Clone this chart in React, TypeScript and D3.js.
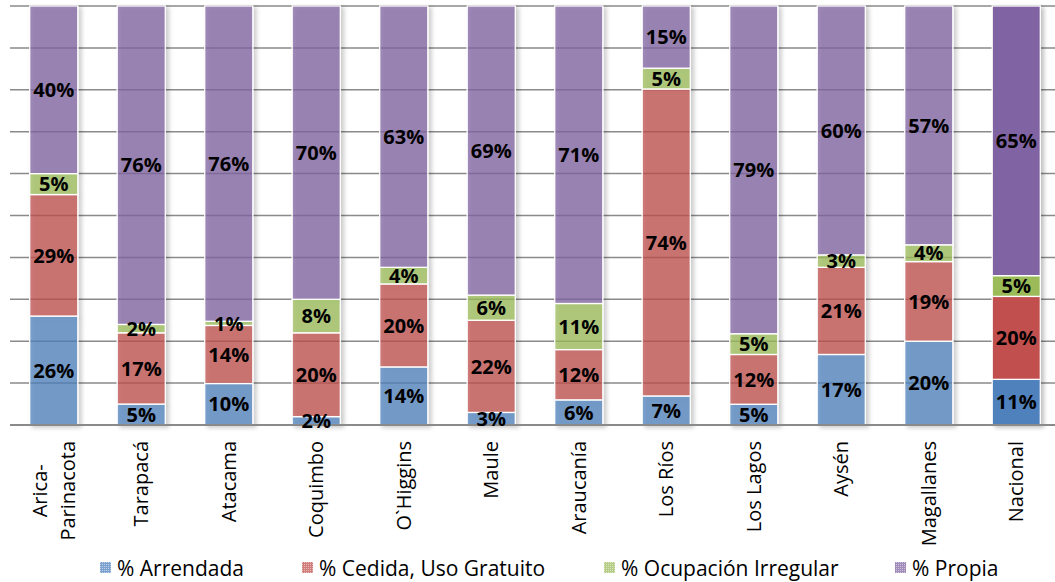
import React, { useEffect, useRef } from 'react';
import * as d3 from 'd3';

const categories = [
  'Arica-Parinacota', 'Tarapacá', 'Atacama', 'Coquimbo', 'O`Higgins', 'Maule',
  'Araucanía', 'Los Ríos', 'Los Lagos', 'Aysén', 'Magallanes', 'Nacional',
];

const seriesNames = ['% Arrendada', '% Cedida, Uso Gratuito', '% Ocupación Irregular', '% Propia'];

const arrendada = [26, 5, 10, 2, 14, 3, 6, 7, 5, 17, 20, 11];
const cedida = [29, 17, 14, 20, 20, 22, 12, 74, 12, 21, 19, 20];
const ocupacion = [5, 2, 1, 8, 4, 6, 11, 5, 5, 3, 4, 5];
const propia = [40, 76, 76, 70, 63, 69, 71, 15, 79, 60, 57, 65];

const colors = ['#4f81bd', '#c0504d', '#9bbb59', '#8064a2'];

const gridTicks = [0, 0.1, 0.2, 0.3, 0.4, 0.5, 0.6, 0.7, 0.8, 0.9, 1];

const legendX = [100, 302, 604, 895];

const WIDTH = 1055;
const HEIGHT = 582;

const App: React.FC = () => {
  const svgRef = useRef<SVGSVGElement>(null);

  useEffect(() => {
    document.body.style.margin = '0';
    if (!svgRef.current) return;
    const svg = d3.select(svgRef.current);
    svg.selectAll('*').remove();

    const font = '"Open Sans", sans-serif';
    const keys = ['a', 'c', 'o', 'p'];
    const rows = categories.map((name, i) => ({
      name,
      a: arrendada[i],
      c: cedida[i],
      o: ocupacion[i],
      p: propia[i],
    }));

    // 100% stacked, like the spreadsheet does
    const stack = d3.stack<any>().keys(keys).offset(d3.stackOffsetExpand);
    const stacked = stack(rows);

    const x = d3
      .scaleBand()
      .domain(categories)
      .range([10, 1060])
      .paddingInner(0.45)
      .paddingOuter(0.225);

    const y = d3.scaleLinear().domain([0, 1]).range([425, 6]);

    const defs = svg.append('defs');
    const filter = defs.append('filter').attr('id', 'shadow').attr('x', '-20%').attr('y', '-5%').attr('width', '150%').attr('height', '115%');
    filter
      .append('feDropShadow')
      .attr('dx', 3)
      .attr('dy', 2)
      .attr('stdDeviation', 2)
      .attr('flood-color', '#000')
      .attr('flood-opacity', 0.25);

    // legend marker patterns
    colors.forEach((c, k) => {
      const p = defs
        .append('pattern')
        .attr('id', `pat${k}`)
        .attr('width', 2)
        .attr('height', 2)
        .attr('patternUnits', 'userSpaceOnUse');
      p.append('rect').attr('width', 2).attr('height', 2).attr('fill', c).attr('fill-opacity', 0.75);
      p.append('rect').attr('width', 1).attr('height', 1).attr('fill', '#fff').attr('fill-opacity', 0.5);
    });

    // grid lines
    svg
      .append('g')
      .selectAll('line')
      .data(gridTicks.slice(1))
      .enter()
      .append('line')
      .attr('x1', 10)
      .attr('x2', WIDTH)
      .attr('y1', (d) => y(d))
      .attr('y2', (d) => y(d))
      .attr('stroke', '#8a8a8a')
      .attr('stroke-width', 1.5);

    // bars
    const barG = svg.append('g');
    categories.forEach((name, i) => {
      const isNational = name === 'Nacional';
      const g = barG.append('g').attr('filter', 'url(#shadow)');
      stacked.forEach((layer, k) => {
        const seg = layer[i];
        g.append('rect')
          .attr('x', x(name)!)
          .attr('width', x.bandwidth())
          .attr('y', y(seg[1]))
          .attr('height', y(seg[0]) - y(seg[1]))
          .attr('fill', colors[k])
          .attr('fill-opacity', isNational ? 1 : 0.74)
          .attr('stroke', '#fff')
          .attr('stroke-width', 1.3);
      });
    });

    // baseline
    svg
      .append('line')
      .attr('x1', 10)
      .attr('x2', WIDTH)
      .attr('y1', y(0))
      .attr('y2', y(0))
      .attr('stroke', '#8a8a8a')
      .attr('stroke-width', 2);

    // value labels
    const labelG = svg.append('g');
    const values = [arrendada, cedida, ocupacion, propia];
    categories.forEach((name, i) => {
      stacked.forEach((layer, k) => {
        const seg = layer[i];
        labelG
          .append('text')
          .attr('x', x(name)! + x.bandwidth() / 2)
          .attr('y', (y(seg[0]) + y(seg[1])) / 2)
          .attr('dy', '0.36em')
          .attr('text-anchor', 'middle')
          .style('font-family', font)
          .style('font-weight', 700)
          .style('font-size', '20px')
          .attr('fill', '#000')
          .text(`${values[k][i]}%`);
      });
    });

    // category labels, rotated
    const catG = svg.append('g');
    const labelTop = 441;
    categories.forEach((name) => {
      const lines = name.includes('-') ? [name.slice(0, name.indexOf('-') + 1), name.slice(name.indexOf('-') + 1)] : [name];
      const cx = x(name)! + x.bandwidth() / 2;
      const t = catG
        .append('text')
        .style('font-family', font)
        .style('font-size', '20px')
        .attr('fill', '#000');
      lines.forEach((ln, li) => {
        t.append('tspan')
          .attr('x', 0)
          .attr('y', (li - (lines.length - 1) / 2) * 28)
          .attr('dy', '0.35em')
          .text(ln);
      });
      const tspans = t.selectAll<SVGTSpanElement, unknown>('tspan').nodes();
      const longest = d3.max(tspans, (n) => n.getComputedTextLength()) || 0;
      t.attr('text-anchor', 'middle').attr(
        'transform',
        `translate(${cx},${labelTop + longest / 2}) rotate(-90)`
      );
    });

    // legend
    const legend = svg.append('g');
    seriesNames.forEach((s, k) => {
      legend
        .append('rect')
        .attr('x', legendX[k])
        .attr('y', 562)
        .attr('width', 11)
        .attr('height', 11)
        .attr('fill', `url(#pat${k})`);
      legend
        .append('text')
        .attr('x', legendX[k] + 17)
        .attr('y', 576)
        .style('font-family', font)
        .style('font-size', '21px')
        .attr('fill', '#000')
        .text(s);
    });
  }, []);

  return (
    <svg
      ref={svgRef}
      width={WIDTH}
      height={HEIGHT}
      viewBox={`0 0 ${WIDTH} ${HEIGHT}`}
      style={{ display: 'block', background: '#fff' }}
    />
  );
};

export default App;
